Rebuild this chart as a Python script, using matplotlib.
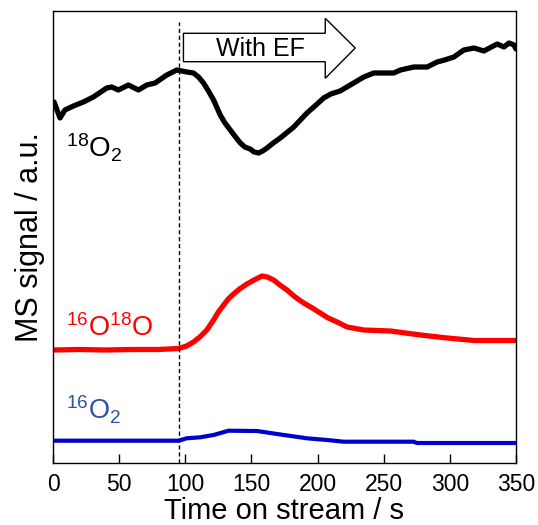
import matplotlib
matplotlib.use("Agg")
import matplotlib.pyplot as plt
from matplotlib.patches import Polygon

plt.rcParams['font.family'] = ['Liberation Sans', 'DejaVu Sans']
plt.rcParams['mathtext.fontset'] = 'custom'
plt.rcParams['mathtext.rm'] = 'Liberation Sans'
plt.rcParams['mathtext.default'] = 'regular'

# ---- data (a.u.) ----
t_18o2 = [0.8, 5.3, 9, 15.4, 23, 30.5, 40.6, 44.4, 49.4, 57, 64.6, 70.9, 77.2, 86,
          93.6, 101.2, 106.2, 110, 113.8, 117.5, 121.4, 126.4, 130, 134, 138, 141.6,
          145, 149, 152, 155.4, 158.5, 161.8, 166.5,
          171.8, 182, 192, 198, 204.6, 210, 217, 227.3, 234.9, 242.5, 252.6, 257.6, 262.7,
          272.7, 282.8, 290.4, 296, 303, 310.6, 318.2, 325.7, 330, 335.8, 340.9, 344.7,
          348.5, 350]
y_18o2 = [361, 345, 353, 357, 361, 366, 375, 376, 373, 378, 373, 378, 380, 388,
          393, 391, 390, 386, 380, 372, 363, 348, 340, 333, 326, 320,
          316, 314, 311, 310, 312, 315, 320,
          325, 336, 350, 357, 365, 369, 372, 380, 386, 390, 390, 390, 393,
          396, 396, 401, 403, 406, 413, 415, 412, 415, 419, 416, 420,
          418, 414]

t_1618 = [0, 20, 40, 60, 80, 95, 101, 106.2, 111, 116.3, 121.4, 125, 129, 132.5,
          136.5, 141, 146.6, 152, 158, 162, 166.8, 171.5,
          176.9, 183, 189.5, 196, 202, 208, 214.8, 222.3, 234.9, 255, 277.8, 298, 318.2, 350]
y_1618 = [113, 113.5, 113, 113.5, 113.5, 114.5, 117, 121, 126, 133, 143, 151, 158, 164,
          169, 174, 179, 183, 187, 186, 183, 178,
          173, 166, 160, 155, 150, 145, 141, 136, 133, 132, 128, 125, 122.5, 122.5]

t_16o2 = [0, 50, 95, 101, 111.3, 121.4, 132.7, 154.2, 169.3, 192, 207.2, 219.8,
          272.7, 275, 350]
y_16o2 = [22.3, 22.3, 22.3, 24.7, 25.7, 28, 32.3, 32, 29, 24.7, 23, 21.3,
          21.3, 20, 20]

ef_on = 95
xticks = [0, 50, 100, 150, 200, 250, 300, 350]

fig = plt.figure(figsize=(5.38, 5.25), dpi=100)
ax = fig.add_axes([53/538, 62/525, (516-53)/538, (463-11)/525])

ax.plot(t_18o2, y_18o2, color='black', lw=3.8, solid_capstyle='round', solid_joinstyle='round')
ax.plot(t_1618, y_1618, color='#FF0000', lw=3.8, solid_capstyle='butt', solid_joinstyle='round')
ax.plot(t_16o2, y_16o2, color='#0000CC', lw=3.0, solid_capstyle='butt', solid_joinstyle='round')

ax.axvline(ef_on, ymin=0, ymax=0.976, color='black', lw=1.0, ls=(0, (3, 2)))

# arrow "With EF"
arrow = Polygon([(98.6, 401.3), (205.8, 401.3), (205.8, 384.7), (228.5, 415),
                 (205.8, 444.7), (205.8, 429.7), (98.6, 429.7)],
                closed=True, facecolor='white', edgecolor='black', lw=1.0, zorder=3)
ax.add_patch(arrow)
ax.text(157, 414, 'With EF', ha='center', va='center', fontsize=18, zorder=4)

ax.text(10, 306, '$^{18}$O$_2$', color='black', fontsize=20, ha='left', va='baseline')
ax.text(10, 127, '$^{16}$O$^{18}$O', color='#FF0000', fontsize=19.5, ha='left', va='baseline')
ax.text(10, 43.5, '$^{16}$O$_2$', color='#2F52A0', fontsize=19.5, ha='left', va='baseline')

ax.set_xlim(0, 350)
ax.set_ylim(0, 452)
ax.set_xticks(xticks)
ax.set_yticks([])
ax.tick_params(axis='x', direction='in', length=6.5, width=1.0, labelsize=16.5, pad=7)
for s in ax.spines.values():
    s.set_linewidth(1.0)

ax.set_xlabel('Time on stream / s', fontsize=21, labelpad=1)
ax.set_ylabel('MS signal / a.u.', fontsize=22, labelpad=6)

fig.savefig('out.png', dpi=100)
